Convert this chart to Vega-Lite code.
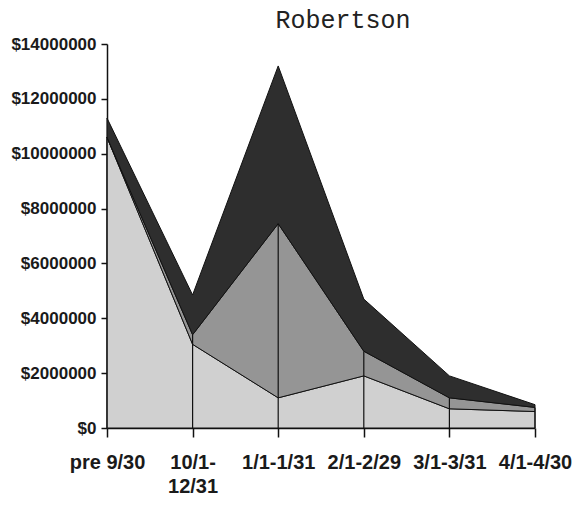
{
  "$schema": "https://vega.github.io/schema/vega-lite/v6.json",
  "autosize": "none",
  "width": 428,
  "height": 384,
  "padding": {"left": 107, "top": 44, "right": 48, "bottom": 78},
  "background": "white",
  "title": {
    "text": "Robertson",
    "font": "Liberation Mono",
    "fontSize": 25,
    "fontWeight": "normal",
    "color": "#222",
    "anchor": "middle",
    "dx": 22,
    "offset": 2
  },
  "config": {
    "view": {"stroke": null},
    "axis": {
      "labelFont": "Liberation Sans",
      "labelFontWeight": "bold",
      "labelColor": "#1a1a1a",
      "domainColor": "#111",
      "tickColor": "#111",
      "domainWidth": 1.5,
      "tickWidth": 1.5,
      "grid": false,
      "title": null
    }
  },
  "data": {
    "values": [
      {"period": "pre 9/30", "series": "Series 1", "amount": 10600000},
      {"period": "pre 9/30", "series": "Series 2", "amount": 0},
      {"period": "pre 9/30", "series": "Series 3", "amount": 700000},
      {"period": "10/1-12/31", "series": "Series 1", "amount": 3050000},
      {"period": "10/1-12/31", "series": "Series 2", "amount": 350000},
      {"period": "10/1-12/31", "series": "Series 3", "amount": 1450000},
      {"period": "1/1-1/31", "series": "Series 1", "amount": 1100000},
      {"period": "1/1-1/31", "series": "Series 2", "amount": 6350000},
      {"period": "1/1-1/31", "series": "Series 3", "amount": 5750000},
      {"period": "2/1-2/29", "series": "Series 1", "amount": 1900000},
      {"period": "2/1-2/29", "series": "Series 2", "amount": 900000},
      {"period": "2/1-2/29", "series": "Series 3", "amount": 1900000},
      {"period": "3/1-3/31", "series": "Series 1", "amount": 700000},
      {"period": "3/1-3/31", "series": "Series 2", "amount": 400000},
      {"period": "3/1-3/31", "series": "Series 3", "amount": 800000},
      {"period": "4/1-4/30", "series": "Series 1", "amount": 600000},
      {"period": "4/1-4/30", "series": "Series 2", "amount": 150000},
      {"period": "4/1-4/30", "series": "Series 3", "amount": 100000}
    ]
  },
  "layer": [
    {
      "mark": {"type": "area", "stroke": "#111", "strokeWidth": 1, "interpolate": "linear"},
      "encoding": {
        "x": {
          "field": "period",
          "type": "ordinal",
          "sort": null,
          "scale": {"type": "point", "padding": 0},
          "axis": {
            "labelAngle": 0,
            "labelFontSize": 20,
            "tickSize": 9,
            "labelPadding": 15,
            "labelLineHeight": 24,
            "labelExpr": "datum.value == '10/1-12/31' ? ['10/1-', '12/31'] : datum.value"
          }
        },
        "y": {
          "field": "amount",
          "type": "quantitative",
          "stack": "zero",
          "scale": {"domain": [0, 14000000], "nice": false},
          "axis": {
            "values": [0, 2000000, 4000000, 6000000, 8000000, 10000000, 12000000, 14000000],
            "labelFontSize": 17,
            "tickSize": 6,
            "labelPadding": 5,
            "labelExpr": "'$' + datum.value"
          }
        },
        "color": {
          "field": "series",
          "type": "nominal",
          "scale": {"domain": ["Series 1", "Series 2", "Series 3"], "range": ["#d0d0d0", "#959595", "#2e2e2e"]},
          "legend": null
        },
        "order": {"field": "series", "sort": "ascending"}
      }
    },
    {
      "transform": [
        {"filter": "datum.series != 'Series 3'"},
        {"aggregate": [{"op": "sum", "field": "amount", "as": "lower"}], "groupby": ["period"]}
      ],
      "mark": {"type": "rule", "color": "#111", "strokeWidth": 1.2},
      "encoding": {
        "x": {"field": "period", "type": "ordinal", "sort": null},
        "y": {"field": "lower", "type": "quantitative"},
        "y2": {"datum": 0}
      }
    }
  ]
}
